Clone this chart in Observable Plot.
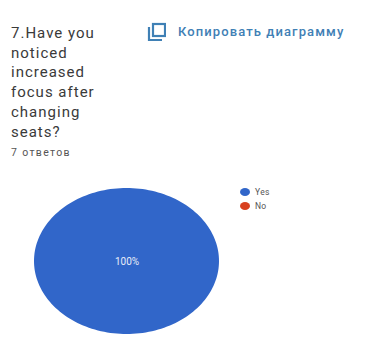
<!DOCTYPE html>
<html>
<head>
<meta charset="utf-8">
<script src="https://cdn.jsdelivr.net/npm/d3@7"></script>
<script src="https://cdn.jsdelivr.net/npm/@observablehq/plot@0.6"></script>
<style>
  html, body { margin: 0; background: #fff; }
  #page { position: relative; width: 370px; height: 354px; overflow: hidden; font-family: Roboto, sans-serif; }
  #chart { position: absolute; left: 0; top: 170px; }
  #chart svg { display: block; }
  .question { position: absolute; left: 11px; top: 24px; margin: 0; font-size: 15px; font-weight: 400; line-height: 19.7px; letter-spacing: 1px; color: #3a3a3a; }
  .count { position: absolute; left: 11px; top: 146px; font-size: 10.5px; letter-spacing: 1.35px; color: #555; }
  .copy { position: absolute; left: 178px; top: 24px; font-size: 13px; font-weight: 500; letter-spacing: 1.1px; color: #3f80b5; white-space: nowrap; }
  .copy-icon { position: absolute; left: 147px; top: 22px; }
  .legend-row { position: absolute; left: 240px; display: flex; align-items: center; font-size: 8.5px; color: #555; letter-spacing: 0.3px; }
  .legend-row i { width: 10px; height: 8px; border-radius: 50%; margin-right: 5px; display: block; }
</style>
</head>
<body>
<div id="page">
  <h1 class="question"></h1>
  <div class="count"></div>
  <svg class="copy-icon" width="19" height="19" viewBox="0 0 19 19" fill="none" stroke="#3f80b5" stroke-width="2.2">
    <rect x="6" y="2" width="12" height="12"/>
    <path d="M2 5V18H15"/>
  </svg>
  <div class="copy"></div>
  <div id="legend"></div>
  <div id="chart"></div>
</div>
<script>
// Survey question and its answers
const questionLines = ["7.Have you", "noticed", "increased", "focus after", "changing", "seats?"];
const responseCount = "7 ответов";
const copyLabel = "Копировать диаграмму";
const categories = ["Yes", "No"];
const shares = [100, 0];
const colors = ["#3166c9", "#d8401f"];

document.querySelector(".question").innerHTML = questionLines.join("<br>");
document.querySelector(".count").textContent = responseCount;
document.querySelector(".copy").textContent = copyLabel;

// Legend entries
const legend = document.getElementById("legend");
categories.forEach((name, i) => {
  const row = document.createElement("div");
  row.className = "legend-row";
  row.style.top = `${187 + i * 13.5}px`;
  row.innerHTML = `<i style="background:${colors[i]}"></i>${name}`;
  legend.appendChild(row);
});

// Slice outlines come from the shares; each slice is an area swept from the centre to the rim
const arcs = d3.pie().sort(null)(shares);
const steps = 180;
const rim = arcs.flatMap((arc, i) =>
  d3.range(steps + 1).map(k => {
    const a = arc.startAngle + (arc.endAngle - arc.startAngle) * k / steps;
    return { category: categories[i], cx: 0, cy: 0, x: Math.sin(a), y: Math.cos(a) };
  })
);
// Only a slice that fills the whole pie carries a centred label
const labels = shares.filter(share => share === 100).map(share => ({ share }));

const plot = Plot.plot({
  width: 370,
  height: 184,
  margin: 0,
  axis: null,
  // The pie is wider than it is tall, so the two axes get different pixel spans
  x: { domain: [-1, 1], range: [34, 219] },
  y: { domain: [-1, 1], range: [164, 18] },
  color: { domain: categories, range: colors },
  marks: [
    Plot.area(rim, { x1: "cx", y1: "cy", x2: "x", y2: "y", z: "category", fill: "category", curve: "linear" }),
    Plot.text(labels, {
      x: () => 0,
      y: () => 0,
      text: d => `${d.share}%`,
      fill: "#e8edf8",
      fontSize: 10,
      fontFamily: "Roboto, sans-serif",
      letterSpacing: 0.3
    })
  ]
});
document.getElementById("chart").appendChild(plot);
</script>
</body>
</html>
